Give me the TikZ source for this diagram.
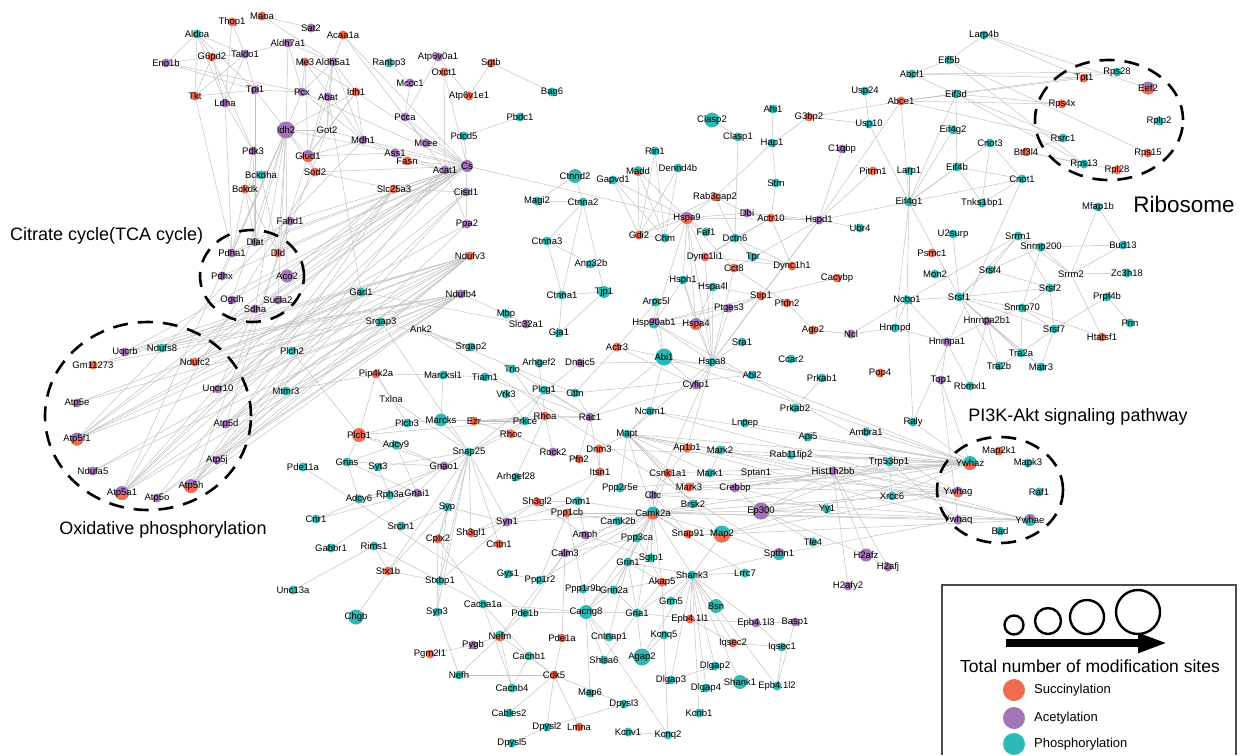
\documentclass[tikz,border=0pt]{standalone}
\usepackage{fontspec}
\setmainfont{Liberation Sans}
\usetikzlibrary{arrows.meta}
\pgfdeclarelayer{bg}
\pgfsetlayers{bg,main}
\definecolor{sucC}{HTML}{F06B50}
\definecolor{aceC}{HTML}{A374B8}
\definecolor{phoC}{HTML}{2CBAB6}
\definecolor{linkC}{HTML}{C2C2C2}

\begin{document}
\begin{tikzpicture}[x=1pt, y=-1pt]
\tikzstyle{gene}=[circle, inner sep=0pt, minimum size=9pt]
\tikzstyle{suc}=[gene, fill=sucC]
\tikzstyle{ace}=[gene, fill=aceC]
\tikzstyle{pho}=[gene, fill=phoC]
\tikzstyle{bare}=[gene, minimum size=4pt]
\tikzset{glab/.style={font=\fontsize{9.5}{10}\selectfont, inner sep=0pt, text=black},
  lab/.style={label={[glab]center:#1}},
  mix/.style 2 args={gene, fill=#1, path picture={\fill[#2] (path picture bounding box.west) rectangle (path picture bounding box.south east);}},
  link/.style={draw=linkC, line width=0.5pt},
  ring/.style={draw=black, line width=2.6pt, dash pattern=on 15pt off 10pt},
  title/.style={font=\fontsize{18}{20}\selectfont, inner sep=0pt}}

\useasboundingbox (0,0) rectangle (1242,755);

%% pathway rings
\draw[ring] (252,276) ellipse [x radius=52pt, y radius=46pt];
\draw[ring] (148,416) ellipse [x radius=103pt, y radius=94pt];
\draw[ring] (1109,120) ellipse [x radius=74pt, y radius=60pt];
\draw[ring] (1000,490) ellipse [x radius=63pt, y radius=53pt];

\node[title, anchor=west] (tcaTxt) at (10,236) {Citrate cycle(TCA cycle)};
\node[title] (oxTxt) at (163,530) {Oxidative phosphorylation};
\node[title, font=\fontsize{22.5}{24}\selectfont] (riboTxt) at (1184,204) {Ribosome};
\node[title] (akTxt) at (1078,417) {PI3K-Akt signaling pathway};

%% phosphorylation
\foreach \n/\x/\y in {Aldoa/197/34, Bckdha/261/175, Ranbp3/389/63, Bag6/552/92, Pbdc1/520/117, Pdcd5/464/136,
  Gad1/361/292, Ndufs8/162/348, Plch2/292/351, Mtmr3/286/391, Pde11a/303/467, Srgap3/381/322, Srgap2/471/347,
  Marcksl1/443/375, Plcb3/407/423, Adcy9/396/445, Snap25/469/452, Gnas/347/462, Syt3/378/467, Adcy6/359/499,
  Rph3a/390/495, Syp/447/507, Cnr1/316/519, Srcin1/401/526, Gabbr1/331/548, Rims1/374/546, Stxbp1/440/581,
  Unc13a/293/590, Syn3/437/612, Nefh/459/675, Cacna1a/483/604, Gys1/508/574, Cacnb4/512/688, Cables2/509/713,
  Dpysl5/512/743, Gapvd1/613/180, Magi2/537/201, Ctnna2/583/202, Ctnna3/547/241, Anp32b/591/264, Ctnna1/562/295,
  Mbp/506/314, Gja1/559/333, Trio/512/369, Arhgef2/539/363, Tiam1/485/377, Vrk3/506/394, Plcg1/544/390,
  Cttn/575/393, Prkce/525/421, Arhgef28/516/477, Ppp2r5e/620/488, Dnm1/578/501, Camk2b/618/521, Ppp3ca/637/538,
  Grin1/628/562, Sgip1/651/558, Ppp1r2/540/580, Ppp1r9b/583/589, Grin2a/614/590, Shank3/692/575, Pde1b/525/613,
  Gria1/637/613, Grm5/671/601, Cntnap1/609/637, Kcnq5/664/635, Cacnb1/529/656, Shisa6/604/660, Map6/590/693,
  Dpysl3/624/704, Dpysl2/547/727, Kcnv1/628/732, Kcnq2/668/735, Dlgap3/671/680, Kcnb1/699/713, Dlgap4/706/688,
  Dlgap2/715/666, Iqsec1/782/647, Lrrc7/745/573, Brsk2/693/504, Yy1/827/509, Tle4/813/542, Clasp1/738/137,
  Ahi1/773/109, Hap1/772/143, Usp24/865/91, Usp10/869/124, Abcf1/912/74, Rin1/655/151, Dennd4b/678/168,
  Larp1/909/171, Strn/776/183, Eif4g1/909/202, Ubr4/860/228, Chm/665/238, Faf1/706/232, Dctn6/735/238,
  Tpr/753/257, Mon2/935/274, Hsph1/683/280, Hspa4l/713/287, Arpc5l/656/302, Ncbp1/907/300, Hnrnpd/895/328,
  Sra1/742/342, Ccar2/791/359, Hspa8/712/362, Abl2/752/375, Prkab1/822/378, Ncam1/650/411, Prkab2/795/408,
  Lnpep/745/423, Raly/913/422, Mapt/627/434, Api5/808/437, Ambra1/866/432, Mark2/720/450, Rab11fip2/791/455,
  Trp53bp1/889/462, Mark1/710/473, Xrcc6/892/496, Larp4b/984/35, Eif5b/949/60, Eif3d/956/94, Eif4g2/953/130,
  Cnot3/990/143, Eif4b/957/167, Cnot1/1022/179, Tnks1bp1/982/203, Rps28/1117/72, Rplp2/1159/121, Rsrc1/1063/138,
  Rps13/1084/164, Mfap1b/1098/207, U2surp/953/234, Srrm1/1018/236, Snrnp200/1041/247, Bud13/1123/245,
  Srsf4/990/270, Zc3h18/1127/273, Srsf1/959/297, Srsf2/1050/288, Prpf4b/1107/297, Snrnp70/1022/308,
  Pnn/1130/323, Srsf7/1054/329, Tra2a/1021/353, Tra2b/999/366, Matr3/1041/367, Rbmxl1/970/386,
  Mapk3/1028/463, Raf1/1039/492, Bad/1000/531}
  \node[pho, lab=\n] (\n) at (\x,\y) {};
\node[pho, lab=Epb4.1l2] (Epb41l2) at (777,686) {};
\node[pho, minimum size=14pt, lab=Ctnnd2] (Ctnnd2) at (575,176) {};
\node[pho, minimum size=12pt, lab=Tjp1] (Tjp1) at (604,292) {};
\node[pho, minimum size=17pt, lab=Abi1] (Abi1) at (664,357) {};
\node[pho, minimum size=15pt, lab=Clasp2] (Clasp2) at (712,120) {};
\node[pho, minimum size=13pt, lab=Marcks] (Marcks) at (441,420) {};
\node[pho, minimum size=15pt, lab=Chgb] (Chgb) at (356,617) {};
\node[pho, minimum size=14pt, lab=Cacng8] (Cacng8) at (586,612) {};
\node[pho, minimum size=17pt, lab=Agap2] (Agap2) at (642,657) {};
\node[pho, minimum size=14pt, lab=Bsn] (Bsn) at (716,606) {};
\node[pho, minimum size=14pt, lab=Shank1] (Shank1) at (740,682) {};

%% acetylation
\foreach \n/\x/\y in {Sat2/311/28, Aldh7a1/288/43, Taldo1/245/54, Eno1b/166/63, Aldh5a1/333/62, Tpi1/255/90,
  Ldha/225/103, Pcx/302/92, Abat/328/97, Mdh1/363/140, Pdk3/253/151, Fahd1/290/221, Atp6v0a1/438/57,
  Mccc1/410/83, Pcca/405/117, Mcee/426/143, Ass1/395/153, Acat1/445/170, Cisd1/466/192, Ppa2/467/224,
  Ndufb4/461/294, Dlat/255/242, Pdha1/232/253, Pdhx/222/276, Ogdh/232/300, Sucla2/278/300, Sdha/255/309,
  Uqcrb/125/352, Uqcr10/218/389, Atp5e/77/403, Atp5d/226/424, Atp5j/217/460, Ndufa5/93/471, Atp5o/157/498,
  Gnao1/444/466, Gnai1/417/493, Syn1/507/522, Pygb/473/645, Slc32a1/526/324, Dnajc5/580/363, Rac1/590/417,
  Rock2/553/452, Amph/585/535, Calm3/565/553, Basp1/795/622, H2afj/888/567, H2afy2/848/586, C1qbp/842/149,
  Dbi/747/213, Hspd1/819/220, Ptges3/729/308, Ncl/851/334, Cyfip1/696/385, Hist1h2bb/833/471, Crebbp/735/488,
  Cltc/653/495, Hnrnpa2b1/987/321, Hnrnpa1/947/342, Top1/941/380, Ywhaq/958/520}
  \node[ace, lab=\n] (\n) at (\x,\y) {};
\node[ace, lab=Epb4.1l3] (Epb41l3) at (756,623) {};
\node[ace, minimum size=17pt, lab=Idh2] (Idh2) at (286,130) {};
\node[ace, minimum size=12pt, lab=Cs] (Cs) at (467,166) {};
\node[ace, minimum size=13pt, lab=Aco2] (Aco2) at (287,276) {};
\node[ace, minimum size=17pt, lab=Ep300] (Ep300) at (761,511) {};
\node[ace, minimum size=13pt, lab=H2afz] (H2afz) at (866,555) {};

%% succinylation
\foreach \n/\x/\y in {Thop1/232/22, Maoa/262/16, G6pd2/212/57, Me3/305/62, Acaa1a/343/35, Tkt/195/96,
  Idh1/356/92, Bckdk/245/189, Sod2/315/172, Oxct1/444/72, Sgtb/491/63, Atp6v1e1/469/96, Fasn/407/161,
  Slc25a3/394/189, Ndufv3/470/256, Dld/278/253, Gm11273/93/365, Ndufc2/195/362, Pip4k2a/376/374, Ezr/474/421,
  Cplx2/438/539, Sh3gl1/471/533, Cntn1/499/544, Stx1b/388/571, Pgm2l1/430/654, Actr3/617/347, Rhoa/545/416,
  Rhoc/511/434, Dnm3/599/449, Pfn2/579/459, Itsn1/600/472, Sh3gl2/537/502, Ppp1cb/567/513, Akap5/662/582,
  Pde1a/562/638, Cdk5/554/675, Lmna/579/727, Iqsec2/733/643, Snap91/688/534, G3bp2/809/117, Abce1/901/101,
  Pitrm1/873/171, Rab3gap2/715/197, Actr10/771/218, Gdi2/639/235, Dync1li1/705/257, Cct8/734/268,
  Dync1h1/792/266, Psmc1/932/253, Cacybp/837/278, Stip1/761/296, Pfdn2/787/303, Ago2/813/330, Pop4/880/373,
  Ap1b1/687/448, Csnk1a1/668/473, Mark3/689/487, Btf3l4/1026/152, Tpt1/1084/78, Rps4x/1062/104,
  Rps15/1148/153, Rpl28/1117/170, Htatsf1/1102/337, Map2k1/999/451}
  \node[suc, lab=\n] (\n) at (\x,\y) {};
\node[suc, lab=Epb4.1l1] (Epb41l1) at (690,619) {};
\node[suc, minimum size=14pt, lab=Plcb1] (Plcb1) at (359,435) {};

%% two modifications
\node[mix={aceC}{sucC}, minimum size=12pt, lab=Glud1] (Glud1) at (308,156) {};
\node[mix={aceC}{sucC}, minimum size=13pt, lab=Atp5f1] (Atp5f1) at (77,439) {};
\node[mix={aceC}{sucC}, minimum size=14pt, lab=Atp5h] (Atp5h) at (191,486) {};
\node[mix={aceC}{sucC}, minimum size=14pt, lab=Atp5a1] (Atp5a1) at (122,493) {};
\node[mix={phoC}{sucC}, minimum size=11pt, lab=Nefm] (Nefm) at (500,636) {};
\node[mix={phoC}{sucC}, minimum size=13pt, lab=Camk2a] (Camk2a) at (653,513) {};
\node[mix={phoC}{sucC}, minimum size=17pt, lab=Map2] (Map2) at (722,534) {};
\node[mix={aceC}{phoC}, minimum size=12pt, lab=Sptbn1] (Sptbn1) at (779,554) {};
\node[mix={phoC}{sucC}, minimum size=10pt, lab=Madd] (Madd) at (638,171) {};
\node[mix={aceC}{sucC}, minimum size=12pt, lab=Hspa9] (Hspa9) at (687,218) {};
\node[mix={aceC}{phoC}, minimum size=11pt, lab=Hsp90ab1] (Hsp90ab1) at (654,323) {};
\node[mix={aceC}{sucC}, minimum size=12pt, lab=Hspa4] (Hspa4) at (696,324) {};
\node[mix={aceC}{sucC}, minimum size=13pt, lab=Eef2] (Eef2) at (1148,88) {};
\node[mix={phoC}{sucC}, minimum size=14pt, lab=Ywhaz] (Ywhaz) at (970,463) {};
\node[mix={aceC}{sucC}, minimum size=11pt, lab=Ywhag] (Ywhag) at (958,492) {};
\node[mix={aceC}{phoC}, minimum size=12pt, lab=Ywhae] (Ywhae) at (1030,520) {};

%% no colour
\foreach \n/\x/\y in {Got2/327/130, Ank2/421/329, Txlna/391/399, Sptan1/756/473, Srrm2/1071/274}
  \node[bare, lab=\n] (\n) at (\x,\y) {};

%% interactions
\begin{pgfonlayer}{bg}
\def\tca{Dlat,Pdha1,Dld,Pdhx,Aco2,Ogdh,Sucla2,Sdha}
\def\oxp{Uqcrb,Ndufs8,Gm11273,Ndufc2,Uqcr10,Atp5e,Atp5d,Atp5f1,Atp5j,Ndufa5,Atp5h,Atp5a1,Atp5o}
\def\ribo{Rps28,Tpt1,Eef2,Rps4x,Rplp2,Rsrc1,Rps15,Rps13,Rpl28}
\def\akt{Map2k1,Ywhaz,Mapk3,Ywhag,Raf1,Ywhaq,Ywhae,Bad}
\foreach \grp in {\tca,\oxp,\ribo,\akt}
  \foreach \a [count=\i] in \grp
    \foreach \b [count=\j] in \grp {\ifnum\i<\j \draw[link] (\a) -- (\b);\fi}
\foreach \a in \oxp {\draw[link] (\a) -- (Ndufv3); \draw[link] (\a) -- (Ndufb4);}
\foreach \a in \tca {\draw[link] (\a) -- (Cs); \draw[link] (\a) -- (Idh2);}
\foreach \a/\b in {Aldoa/Eno1b, Aldoa/G6pd2, Aldoa/Taldo1, Aldoa/Tkt, Aldoa/Tpi1, Aldoa/Ldha, Eno1b/G6pd2,
  Eno1b/Tpi1, Eno1b/Pcx, G6pd2/Taldo1, G6pd2/Tkt, G6pd2/Ldha, G6pd2/Pdk3, Taldo1/Tkt, Taldo1/Aldh7a1,
  Taldo1/Tpi1, Taldo1/Ldha, Thop1/Taldo1, Thop1/Ldha, Maoa/Sat2, Maoa/Aldh5a1, Tkt/Tpi1, Tkt/Pdha1,
  Tpi1/Pcx, Tpi1/Idh2, Tpi1/Dlat, Ldha/Pdk3, Ldha/Pdha1, Pdk3/Pdha1, Pdk3/Dlat, Bckdha/Bckdk, Bckdha/Dld,
  Bckdk/Dld, Bckdk/Dlat, Aldh7a1/Pcx, Aldh7a1/Aldh5a1, Aldh7a1/Idh2, Aldh5a1/Abat, Aldh5a1/Got2, Aldh5a1/Pcx,
  Aldh5a1/Glud1, Aldh5a1/Idh1, Aldh5a1/Mdh1, Me3/Pcx, Me3/Idh1, Me3/Mdh1, Me3/Glud1, Acaa1a/Acat1, Acaa1a/Cs,
  Acaa1a/Aldh5a1, Pcx/Cs, Pcx/Idh2, Pcx/Mdh1, Abat/Got2, Abat/Gad1, Abat/Glud1, Idh1/Cs, Idh1/Mdh1, Idh1/Idh2,
  Idh1/Got2, Idh1/Glud1, Got2/Mdh1, Got2/Glud1, Got2/Idh2, Mdh1/Cs, Mdh1/Acat1, Mdh1/Glud1, Idh2/Glud1,
  Idh2/Sod2, Idh2/Cs, Glud1/Ass1, Glud1/Sod2, Ass1/Fasn, Fasn/Cs, Fasn/Acat1, Pcca/Mccc1, Pcca/Cs, Pcca/Mcee,
  Mcee/Cs, Mccc1/Ranbp3, Atp6v0a1/Atp6v1e1, Atp6v0a1/Pcca, Oxct1/Acat1, Oxct1/Cs, Sgtb/Atp6v1e1, Sgtb/Bag6,
  Pdcd5/Pbdc1, Pdcd5/Cs, Cs/Acat1, Cs/Slc25a3, Cs/Cisd1, Cs/Hspa9, Cs/Fahd1, Sod2/Slc25a3, Sod2/Cs,
  Slc25a3/Cisd1, Fahd1/Dld, Fahd1/Pdha1, Acat1/Ppa2, Cisd1/Ppa2, Slc25a3/Atp5a1, Slc25a3/Atp5f1,
  Slc25a3/Atp5h, Slc25a3/Atp5o, Slc25a3/Ndufc2, Cs/Atp5a1, Acat1/Atp5h, Ppa2/Atp5f1, Ppa2/Atp5j,
  Cisd1/Uqcr10, Sod2/Atp5a1, Sdha/Uqcrb, Sdha/Uqcr10, Sdha/Ndufs8, Acat1/Atp5a1, Acat1/Atp5f1,
  Cisd1/Atp5d, Cisd1/Atp5h, Glud1/Atp5d, Mdh1/Atp5f1, Idh2/Atp5a1, Got2/Atp5h, Cs/Uqcrb, Cs/Ndufc2,
  Gad1/Atp5a1, Gad1/Atp5h, Gad1/Atp5f1, Gad1/Uqcr10, Gad1/Ndufc2, Gad1/Slc32a1, Srgap3/Srgap2,
  Srgap3/Snap25, Ank2/Srgap2, Ank2/Cttn, Ank2/Sptbn1, Ndufb4/Mbp, Plch2/Plcb1, Mtmr3/Pip4k2a, Pde11a/Pde1b,
  Pip4k2a/Plcb1, Pip4k2a/Plcb3, Pip4k2a/Marcksl1, Pip4k2a/Txlna, Txlna/Snap25, Marcksl1/Marcks,
  Marcksl1/Tiam1, Plcb3/Marcks, Plcb3/Plcb1, Marcks/Ezr, Marcks/Prkce, Marcks/Snap25, Ezr/Rhoa, Ezr/Prkce,
  Ezr/Rhoc, Ezr/Rac1, Plcb1/Gnas, Plcb1/Adcy9, Plcb1/Gnao1, Plcb1/Prkce, Gnas/Adcy6, Gnas/Adcy9, Gnas/Gnao1,
  Gnas/Gnai1, Syt3/Snap25, Syt3/Rph3a, Adcy9/Gnao1, Adcy9/Gnai1, Gnao1/Gnai1, Gnao1/Snap25, Gnai1/Rph3a,
  Gnai1/Adcy6, Gnai1/Cnr1, Gnai1/Gabbr1, Gnao1/Cnr1, Syp/Snap25, Syp/Syn1, Syp/Stxbp1, Syp/Srcin1, Syp/Cplx2,
  Snap25/Stxbp1, Snap25/Cplx2, Snap25/Syn1, Snap25/Stx1b, Snap25/Rph3a, Snap25/Sh3gl1, Snap25/Dnajc5,
  Snap25/Prkce, Snap25/Rhoc, Snap25/Cntn1, Snap25/Syn3, Stx1b/Rims1, Stx1b/Stxbp1, Stx1b/Chgb, Stx1b/Syp,
  Rims1/Unc13a, Rims1/Stxbp1, Cplx2/Syn3, Cplx2/Cacna1a, Sh3gl1/Syn1, Sh3gl1/Sh3gl2, Sh3gl1/Cntn1,
  Syn1/Dnm1, Syn1/Camk2a, Syn1/Sh3gl2, Syn3/Stxbp1, Syn3/Nefh, Stxbp1/Cacna1a, Stxbp1/Syn1,
  Cacna1a/Cacnb4, Cacna1a/Cacnb1, Cacna1a/Cacng8, Gys1/Ppp1r2, Pygb/Pgm2l1, Pygb/Nefm, Nefm/Nefh, Nefm/Cdk5,
  Nefm/Cacnb4, Nefm/Pde1b, Nefm/Calm3, Nefh/Cdk5, Cables2/Cdk5, Cacnb4/Cacnb1, Dpysl5/Dpysl2, Dpysl2/Dpysl3,
  Dpysl2/Cdk5, Lmna/Cdk5, Cdk5/Pde1a, Cdk5/Cacnb1, Dpysl3/Cdk5, Pde1a/Calm3, Pde1b/Calm3, Kcnv1/Kcnq2,
  Kcnq2/Kcnq5, Kcnq2/Cacng8, Kcnq5/Akap5, Kcnq5/Agap2, Agap2/Shank3, Agap2/Gria1, Shisa6/Cacng8,
  Shisa6/Gria1, Cntnap1/Cacng8, Cntnap1/Grin1, Map6/Cacng8, Cacng8/Gria1, Cacng8/Grin1, Cacng8/Camk2a,
  Cacng8/Ppp1r9b, Cacng8/Grin2a, Cacng8/Pde1b, Gria1/Grin1, Gria1/Grin2a, Gria1/Akap5, Gria1/Camk2a,
  Gria1/Epb41l1, Gria1/Shank3, Grin1/Grin2a, Grin1/Camk2a, Grin1/Ppp3ca, Grin1/Shank3, Grin1/Akap5,
  Grin2a/Camk2a, Grin2a/Shank3, Grin2a/Ppp1r9b, Akap5/Ppp3ca, Akap5/Camk2a, Akap5/Shank3, Shank3/Shank1,
  Shank3/Dlgap2, Shank3/Dlgap3, Shank3/Dlgap4, Shank3/Grm5, Shank3/Bsn, Shank3/Lrrc7, Shank3/Sptbn1,
  Shank3/Camk2a, Shank3/Map2, Shank3/Epb41l1, Shank3/Epb41l3, Shank3/Iqsec2, Shank3/Kcnb1, Shank3/Epb41l2,
  Epb41l1/Epb41l3, Epb41l1/Iqsec2, Epb41l3/Basp1, Iqsec2/Iqsec1, Iqsec1/Epb41l2, Basp1/Epb41l2,
  Epb41l3/Iqsec1, Dlgap2/Dlgap3, Camk2a/Camk2b, Camk2a/Ppp3ca, Camk2a/Map2, Camk2a/Snap91, Camk2a/Brsk2,
  Camk2a/Cltc, Camk2a/Mapt, Camk2a/Calm3, Camk2a/Ppp1cb, Camk2a/Dnm1, Camk2a/Amph, Camk2a/Sgip1,
  Camk2a/Csnk1a1, Camk2a/Ep300, Camk2a/Lrrc7, Camk2a/Ppp1r2, Camk2a/Ppp1r9b, Calm3/Ppp3ca, Calm3/Camk2b,
  Ppp1cb/Ppp1r2, Ppp1cb/Ppp1r9b, Ppp1cb/Camk2b, Amph/Dnm1, Amph/Sh3gl2, Amph/Sgip1, Dnm1/Sh3gl2, Dnm1/Itsn1,
  Dnm3/Itsn1, Dnm3/Mapt, Sh3gl2/Itsn1, Pfn2/Rock2, Rock2/Rhoa, Rock2/Rhoc, Rhoa/Rac1, Rhoa/Prkce,
  Rhoa/Arhgef2, Rhoa/Trio, Rhoa/Arhgef28, Rhoc/Prkce, Rac1/Cttn, Rac1/Trio, Rac1/Tiam1, Rac1/Plcg1,
  Rac1/Abi1, Rac1/Cyfip1, Rac1/Pfn2, Rac1/Itsn1, Plcg1/Cttn, Plcg1/Prkce, Vrk3/Prkce, Cttn/Abl2,
  Cttn/Actr3, Gja1/Tjp1, Gja1/Ctnna1, Tjp1/Ctnna1, Tjp1/Ctnna2, Ctnna1/Ctnna2, Ctnna1/Ctnna3,
  Ctnna2/Ctnnd2, Ctnna2/Magi2, Ctnna2/Ctnna3, Ctnnd2/Magi2, Anp32b/Ctnna3, Mbp/Slc32a1, Dnajc5/Hspa8,
  Actr3/Arpc5l, Actr3/Abi1, Actr3/Cyfip1, Arpc5l/Abi1, Abi1/Cyfip1, Abi1/Abl2, Abi1/Ncam1, Ncam1/Mapt,
  Mapt/Mark2, Mapt/Mark1, Mapt/Mark3, Mapt/Csnk1a1, Mapt/Ppp2r5e, Mapt/Hspa8, Mapt/Brsk2, Mapt/Map2,
  Mark2/Mark1, Ap1b1/Cltc, Ap1b1/Hspa8, Cltc/Hspa8, Cltc/Snap91, Crebbp/Ep300, Ep300/Yy1, Ep300/Tle4,
  Ep300/H2afz, Ep300/Hist1h2bb, Ep300/Xrcc6, Ep300/Trp53bp1, Crebbp/Yy1, Crebbp/Hist1h2bb,
  Crebbp/Trp53bp1, Hist1h2bb/H2afz, Hist1h2bb/H2afy2, Hist1h2bb/H2afj, H2afz/H2afj, Xrcc6/Trp53bp1,
  Snap91/Map2, Map2/Sptbn1, Hspa8/Hspa4, Hspa8/Hspa4l, Hspa8/Hsph1, Hspa8/Hsp90ab1, Hspa8/Stip1,
  Hspa8/Ptges3, Hspa8/Cct8, Hspa8/Hspa9, Hspa8/Cyfip1, Hspa8/Sra1, Hspa8/Dync1li1, Hspa8/Hspd1,
  Hspa4/Hsph1, Hspa4/Hsp90ab1, Hspa4/Stip1, Hspa4/Hspa4l, Hspa4/Hspa9, Hsp90ab1/Stip1, Hsp90ab1/Ptges3,
  Hsp90ab1/Hsph1, Hsp90ab1/Arpc5l, Hsp90ab1/Abi1, Hsp90ab1/Hspa9, Hsph1/Hspa4l, Hspa4l/Stip1,
  Stip1/Ptges3, Stip1/Cacybp, Cct8/Pfdn2, Pfdn2/Ago2, Hspa9/Hspd1, Hspa9/Dbi, Hspa9/Gdi2, Hspa9/Chm,
  Hspa9/Faf1, Hspa9/Rab3gap2, Hspa9/Dync1li1, Hspa9/Madd, Hspa9/Hsph1, Hspa9/Cct8, Hspd1/C1qbp,
  Hspd1/Actr10, Hspd1/Pitrm1, Hspd1/Abce1, Hspd1/Ubr4, Hspd1/Cct8, Hspd1/Stip1, Hspd1/Dbi, Actr10/Dctn6,
  Actr10/Dync1h1, Actr10/Dync1li1, Actr10/Dbi, Actr10/Strn, Dctn6/Dync1h1, Dctn6/Dync1li1,
  Dync1h1/Dync1li1, Dync1h1/Tpr, Tpr/Dctn6, Hap1/Strn, Hap1/Ahi1, Hap1/G3bp2, Hap1/Rab3gap2,
  Clasp1/Clasp2, Clasp1/Dctn6, Rab3gap2/Gdi2, Rab3gap2/Dbi, Rab3gap2/Dctn6, Rin1/Gdi2, Rin1/Chm,
  Madd/Gdi2, Madd/Chm, Dennd4b/Gdi2, Dennd4b/Chm, Gapvd1/Gdi2, Gapvd1/Chm, Gapvd1/Hspa9, Gdi2/Chm,
  G3bp2/Usp10, G3bp2/Abce1, Usp24/Usp10, Usp10/Eif4g1, Abce1/Eif4g1, Abce1/Eif3d, Abce1/Tpt1,
  Abce1/Rps28, Abce1/Rps4x, Abce1/Rsrc1, Abcf1/Eif5b, Abcf1/Rps28, Abcf1/Tpt1, Abcf1/Eif3d,
  Eif5b/Larp4b, Eif5b/Rps13, Eif5b/Rps15, Larp4b/Tpt1, Larp4b/Eef2, Eif3d/Eif4g1, Eif3d/Rps4x,
  Eif3d/Rsrc1, Eif3d/Rps13, Eif3d/Eif4b, Eif4g2/Eif4g1, Cnot3/Cnot1, Cnot3/Tnks1bp1, Cnot3/Eif4g1,
  Cnot1/Tnks1bp1, Cnot1/Eif4g1, Cnot1/Raly, Eif4b/Eif4g1, Eif4b/Tnks1bp1, Eif4b/Cnot1, Larp1/Eif4g1,
  Eif4g1/Ncbp1, Eif4g1/Srsf1, Eif4g1/Hnrnpd, Eif4g1/Hspd1, Btf3l4/Rps13, Btf3l4/Rsrc1, Btf3l4/Rpl28,
  Ncbp1/Srsf1, Ncbp1/Hnrnpd, Ncbp1/Srrm1, Ncbp1/Hnrnpa1, Ncbp1/Ncl, Srsf1/Srsf4, Srsf1/Srsf2,
  Srsf1/Snrnp70, Srsf1/Tra2a, Srsf1/Tra2b, Srsf1/Hnrnpa2b1, Srsf1/Srsf7, Srsf1/Srrm1, Srsf1/Matr3,
  Srsf1/U2surp, Srsf4/Srrm1, Srsf4/Snrnp200, Srsf4/Srsf2, Srrm1/Snrnp200, Srrm1/Srrm2, Srrm1/Srsf2,
  Snrnp200/Bud13, Snrnp200/Srrm2, Snrnp200/Snrnp70, Mfap1b/Bud13, Mfap1b/Srrm2, Srrm2/Zc3h18,
  Srrm2/Bud13, Srrm2/Srsf2, Srrm2/Htatsf1, Prpf4b/Pnn, Prpf4b/Srsf7, Srsf2/Srsf7, Srsf2/Snrnp70,
  Snrnp70/Hnrnpa2b1, Snrnp70/Srsf7, Snrnp70/Tra2a, Snrnp70/Htatsf1, Srsf7/Tra2a, Srsf7/Matr3,
  Hnrnpa2b1/Tra2a, Hnrnpa2b1/Tra2b, Hnrnpa2b1/Matr3, Hnrnpa2b1/Hnrnpa1, Hnrnpa2b1/Rbmxl1, Hnrnpa1/Top1,
  Hnrnpa1/Rbmxl1, Hnrnpa1/Hnrnpd, Tra2a/Tra2b, Hnrnpd/Ncl, Ncl/Ago2, Raly/Ncbp1, Prkab1/Prkab2,
  Ywhaz/Mapt, Ywhaz/Camk2a, Ywhaz/Map2, Ywhaz/Ncam1, Ywhaz/Trp53bp1, Ywhaz/Raly, Ywhaz/Mark2,
  Ywhaz/Mark3, Ywhaz/Cltc, Ywhaz/Rab11fip2, Ywhaz/Ambra1, Ywhaz/Lnpep, Ywhag/Camk2a, Ywhag/Mapt,
  Ywhag/Mark1, Ywhae/Mapt, Ywhae/Ep300, Ywhae/Rab11fip2, Ywhaq/Camk2a, Ywhaq/Top1, Ywhaz/Top1,
  Ywhag/Xrcc6, Ywhaz/Xrcc6, Ywhaq/Trp53bp1, Ywhae/Map2, Ywhaz/Hspa8, Ywhag/Hsp90ab1, Ywhaz/Crebbp,
  Ywhaz/Api5, Ywhaq/Sptbn1, Ywhaz/Abi1, Ywhaz/Ppp2r5e, Ywhag/Ncam1, Ywhae/Camk2a, Ywhae/Mark2,
  Ywhaq/Mapt, Ywhag/Map2, Ywhaz/Hist1h2bb, Ywhae/Cltc, Ywhag/Mark3, Ywhaz/Csnk1a1, Ywhaz/Dnm3}
  \draw[link] (\a) -- (\b);
\end{pgfonlayer}

%% legend
\draw[draw=black!70, line width=1.2pt] (942,755) |- (1236,585) -- (1236,755);
\node[circle, draw, line width=2.4pt, minimum size=19pt, inner sep=0pt] (sz1) at (1014,625) {};
\node[circle, draw, line width=2.4pt, minimum size=26pt, inner sep=0pt] (sz2) at (1048,621) {};
\node[circle, draw, line width=2.4pt, minimum size=34pt, inner sep=0pt] (sz3) at (1087,617) {};
\node[circle, draw, line width=2.4pt, minimum size=44pt, inner sep=0pt] (sz4) at (1138,612) {};
\coordinate (arrS) at (1006,643);
\coordinate (arrE) at (1168,643);
\draw[line width=8pt, -{Triangle[length=30pt, width=18pt]}] (arrS) -- (arrE);
\node[font=\fontsize{17.5}{19}\selectfont, inner sep=0pt] (legTxt) at (1090,666) {Total number of modification sites};
\node[circle, fill=sucC, minimum size=22pt, inner sep=0pt] (legS) at (1014,690) {};
\node[circle, fill=aceC, minimum size=22pt, inner sep=0pt] (legA) at (1014,718) {};
\node[circle, fill=phoC, minimum size=22pt, inner sep=0pt] (legP) at (1014,744) {};
\node[anchor=west, font=\fontsize{13}{14}\selectfont, inner sep=0pt] (legSt) at (1034,690) {Succinylation};
\node[anchor=west, font=\fontsize{13}{14}\selectfont, inner sep=0pt] (legAt) at (1034,718) {Acetylation};
\node[anchor=west, font=\fontsize{13}{14}\selectfont, inner sep=0pt] (legPt) at (1034,744) {Phosphorylation};
\end{tikzpicture}
\end{document}
